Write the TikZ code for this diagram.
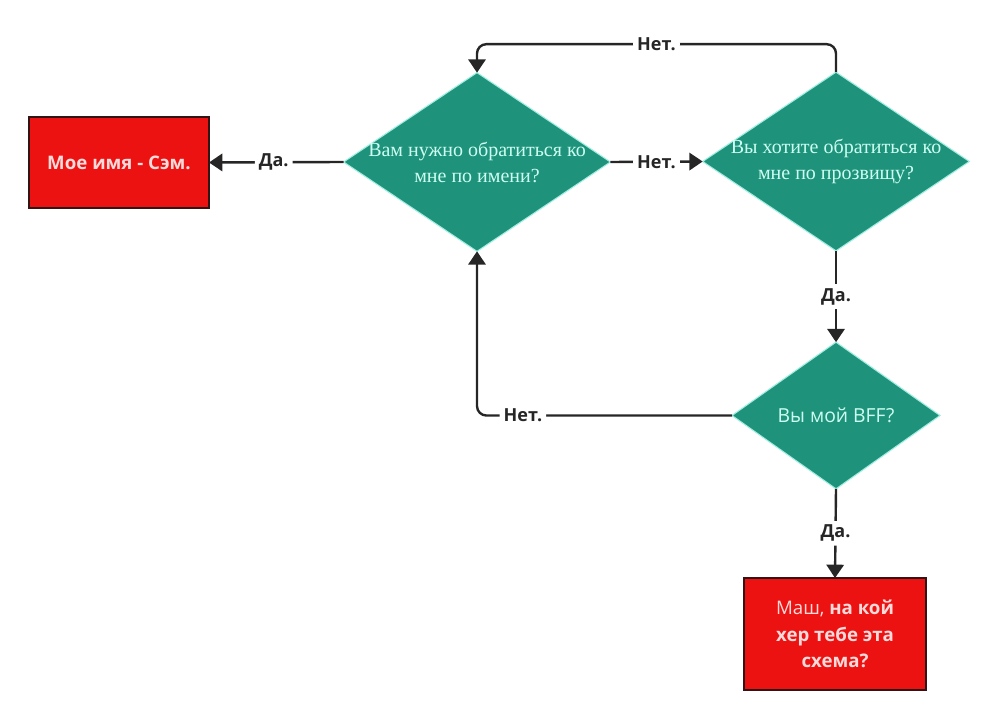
\documentclass[tikz,border=0pt]{standalone}
\usepackage{fontspec}
\setmainfont{Liberation Serif}
\newfontfamily\labelfont{Open Sans}
\usepackage{xcolor}
\definecolor{boxred}{RGB}{236,18,18}
\definecolor{boxedge}{RGB}{50,20,20}
\definecolor{qgreen}{RGB}{30,146,122}
\definecolor{qglow}{RGB}{160,238,225}
\definecolor{qtext}{RGB}{205,255,242}
\definecolor{btext}{RGB}{255,218,218}
\definecolor{ink}{RGB}{38,38,38}
\tikzset{question/.style={diamond,aspect=1.5,fill=qgreen,draw=qglow,line width=0.8pt,
   inner sep=-8pt,outer sep=0pt,align=center,text=qtext,
   font=\fontsize{15}{19.5}\selectfont,
   minimum width=200pt,minimum height=134pt},
 answer/.style={rectangle,fill=boxred,draw=boxedge,line width=1.5pt,
   outer sep=0pt,align=center,text=btext,
   font=\labelfont\bfseries\fontsize{14}{20}\selectfont},
 flow/.style={draw=ink,line width=1.8pt,rounded corners=7pt},
 flowarrow/.style={flow,-{Triangle[width=13pt,length=10pt]}},
 reply/.style={fill=white,inner sep=3pt,text=ink,
   font=\labelfont\bfseries\fontsize{13.5}{15}\selectfont},
 }
\usetikzlibrary{shapes.geometric}
\usetikzlibrary{arrows.meta}

\begin{document}
\begin{tikzpicture}[x=0.75pt,y=-0.75pt]
    \useasboundingbox (0,0) rectangle (999,720);
        \node[answer,minimum width=135pt,minimum height=68pt] (name) at (119,162.5) {Мое имя - Сэм.};
        \node[question] (byname) at (477,162) {Вам нужно обратиться ко\\мне по имени?};
        \node[question] (nick) at (836,161.5) {Вы хотите обратиться ко\\мне по прозвищу?};
        \node[question,font=\labelfont\fontsize{14.5}{16}\selectfont,
            minimum width=156pt,minimum height=110pt] (bff) at (836,415.5) {Вы мой BFF?};
        \node[answer,minimum width=136.5pt,minimum height=84pt] (masha) at (835,634)
            {{\mdseries Маш,} на кой\\хер тебе эта\\схема?};
        \draw[flowarrow] (byname.west) -- node[reply,pos=.52] {Да.} (name.east);
        \draw[flowarrow] (byname.east) -- node[reply] {Нет.} (nick.west);
        \draw[flowarrow] (nick.north) -- ++(0,-28) -| node[reply,pos=.25] {Нет.} (byname.north);
        \draw[flowarrow] (nick.south) -- node[reply] {Да.} (bff.north);
        \draw[flowarrow] (bff.south) -- node[reply] {Да.} (masha.north);
        \draw[flowarrow] (bff.west) -| node[reply,pos=.41] {Нет.} (byname.south);
    \end{tikzpicture}
\end{document}
